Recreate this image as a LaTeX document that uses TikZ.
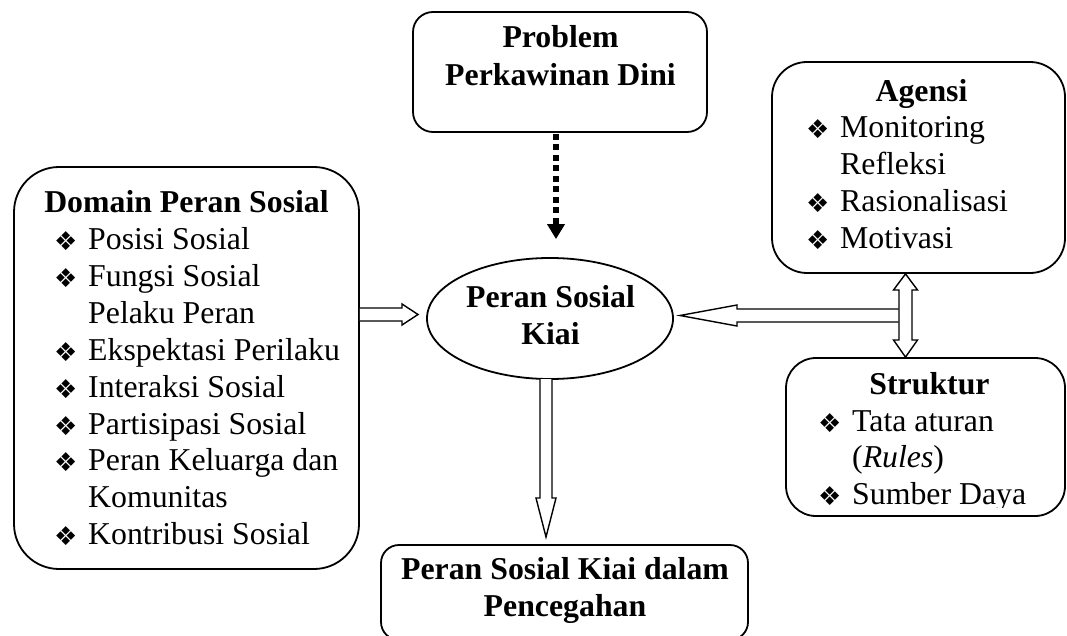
\documentclass[tikz,border=0pt]{standalone}
\usepackage{fontspec}
\setmainfont{Liberation Serif}
\newfontfamily\dvfont{DejaVu Sans}
\usetikzlibrary{shapes.geometric,calc,arrows.meta}
\newcommand\bul{\makebox[35pt][l]{\hspace*{1pt}\raisebox{-1pt}{\dvfont\fontsize{26}{26}\selectfont ❖}}}
\newcommand\ind{\hspace*{35pt}}
\newcommand\lsize{\fontsize{31.8}{36.8}\selectfont}
\begin{document}
\begin{tikzpicture}[x=1pt,y=-1pt,
 box/.style={draw, line width=1.8pt, inner sep=0pt, fill=white},
 ttl/.style={inner sep=0pt, font=\lsize\bfseries, anchor=base},
 lst/.style={inner sep=0pt, anchor=base west, font=\lsize},
 blk/.style={draw, line width=1.4pt, fill=white, line join=miter}]
\useasboundingbox (0,0) rectangle (1067,636);
% boxes
\node[box, rounded corners=20pt, minimum width=294pt, minimum height=120pt] (prob) at (560,72) {};
\node[box, rounded corners=45pt, minimum width=345pt, minimum height=402pt] (domain) at (186.5,368) {};
\node[box, rounded corners=35pt, minimum width=293pt, minimum height=211pt] (agensi) at (918.5,167.5) {};
\node[box, rounded corners=30pt, minimum width=279pt, minimum height=158pt] (struktur) at (925.5,437) {};
\node[box, rounded corners=18pt, minimum width=367pt, minimum height=95pt] (hasil) at (564.5,592.5) {};
\node[box, ellipse, minimum width=246pt, minimum height=121pt] (kiai) at (550,318.5) {};
% texts
\node[ttl] (probt1) at (560.5,48) {Problem};
\node[ttl] (probt2) at (560.5,86) {Perkawinan Dini};
\node[ttl] (domt) at (186.5,213) {Domain Peran Sosial};
\node[lst] (doml) at (53,250) {\parbox[t]{300pt}{\lsize
 \bul Posisi Sosial\\
 \bul Fungsi Sosial\\
 \ind Pelaku Peran\\
 \bul Ekspektasi Perilaku\\
 \bul Interaksi Sosial\\
 \bul Partisipasi Sosial\\
 \bul Peran Keluarga dan\\
 \ind Komunitas\\
 \bul Kontribusi Sosial}};
\node[ttl] (agt) at (921.5,102) {Agensi};
\node[lst] (agl) at (805,138) {\parbox[t]{250pt}{\lsize
 \bul Monitoring\\
 \ind Refleksi\\
 \bul Rasionalisasi\\
 \bul Motivasi}};
\begin{scope}
\clip (780,350) rectangle (1067,507);
\node[ttl] (stt) at (929.5,394) {Struktur};
\node[lst] (stl) at (817,431) {\parbox[t]{240pt}{\lsize
 \bul Tata aturan\\
 \ind (\textit{Rules})\\
 \bul Sumber Daya}};
\end{scope}
\node[ttl] (kiait1) at (550.5,307) {Peran Sosial};
\node[ttl] (kiait2) at (550.5,344) {Kiai};
\node[ttl] (hast1) at (565,579) {Peran Sosial Kiai dalam};
\node[ttl] (hast2) at (565,616) {Pencegahan};
% dotted arrow
\draw[line width=6pt, dash pattern=on 6pt off 4.5pt, -{Triangle[length=15pt,width=17pt]}]
  ($(prob.south)+(-4,1)$) -- ($(kiai.north)+(6,-18)$);
% left block arrow
\coordinate (tipL) at (418,314.5);
\draw[blk] (domain.east |- 0,308) -- (402,308) -- (402,304) -- (tipL) -- (402,325) -- (402,321) -- (domain.east |- 0,321);
% down block arrow
\coordinate (tipD) at (546,537);
\draw[blk] (540,379) -- (540,498) -- (536,498) -- (tipD) -- (556,498) -- (552,498) -- (552,379);
% right block arrow
\coordinate (tipR) at (680,315.5);
\draw[blk] (898.5,309) -- (737,309) -- (737,305) -- (tipR) -- (737,326) -- (737,322) -- (898.5,322);
% double arrow
\draw[blk] (agensi.south -| 905.5,0) -- (917.5,290) -- (912,290) -- (912,340) -- (917.5,340)
  -- (struktur.north -| 905.5,0) -- (893.5,340) -- (899,340) -- (899,290) -- (893.5,290) -- cycle;
\end{tikzpicture}
\end{document}
